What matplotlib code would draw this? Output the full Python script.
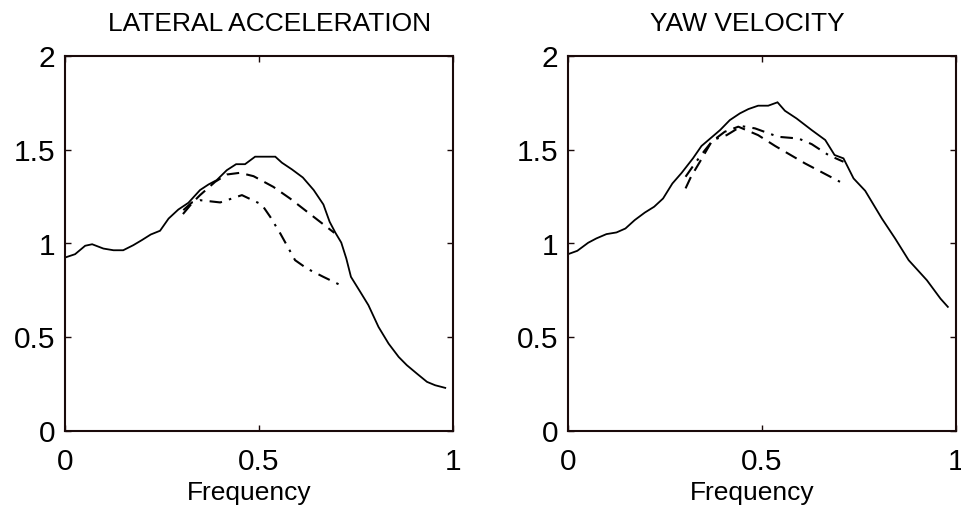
import matplotlib
matplotlib.use("Agg")
import matplotlib.pyplot as plt

plt.rcParams['font.family'] = ['Liberation Sans', 'DejaVu Sans']

# ---- Left panel: LATERAL ACCELERATION ----
la_solid_x = [0.000, 0.026, 0.052, 0.070, 0.099, 0.125, 0.150, 0.176, 0.198, 0.221,
              0.245, 0.267, 0.292, 0.318, 0.348, 0.370, 0.391, 0.417, 0.441, 0.464,
              0.490, 0.542, 0.559, 0.585, 0.613, 0.641, 0.666, 0.682, 0.697, 0.712,
              0.725, 0.737, 0.761, 0.782, 0.808, 0.834, 0.860, 0.881, 0.907, 0.933,
              0.954, 0.980]
la_solid_y = [0.925, 0.943, 0.988, 0.996, 0.973, 0.964, 0.964, 0.991, 1.018, 1.048,
              1.068, 1.133, 1.181, 1.217, 1.285, 1.315, 1.338, 1.391, 1.423, 1.423,
              1.463, 1.463, 1.431, 1.395, 1.352, 1.285, 1.208, 1.116, 1.057, 1.005,
              0.920, 0.822, 0.742, 0.671, 0.555, 0.466, 0.395, 0.351, 0.306, 0.262,
              0.244, 0.230]
la_dash_x = [0.304, 0.327, 0.348, 0.387, 0.417, 0.451, 0.486, 0.537, 0.580, 0.641, 0.694]
la_dash_y = [1.157, 1.214, 1.258, 1.329, 1.368, 1.377, 1.359, 1.302, 1.240, 1.142, 1.057]
la_dd_x = [0.305, 0.327, 0.348, 0.400, 0.456, 0.507, 0.529, 0.555, 0.593, 0.624, 0.666, 0.705]
la_dd_y = [1.178, 1.219, 1.231, 1.219, 1.258, 1.208, 1.142, 1.053, 0.911, 0.866, 0.822, 0.783]

# ---- Right panel: YAW VELOCITY ----
yv_solid_x = [0.000, 0.024, 0.052, 0.073, 0.099, 0.125, 0.148, 0.172, 0.198, 0.222,
              0.245, 0.269, 0.293, 0.322, 0.344, 0.370, 0.392, 0.417, 0.443, 0.465,
              0.490, 0.516, 0.540, 0.559, 0.589, 0.628, 0.663, 0.687, 0.710, 0.736,
              0.766, 0.809, 0.843, 0.878, 0.925, 0.960, 0.979]
yv_solid_y = [0.943, 0.961, 1.004, 1.027, 1.050, 1.059, 1.080, 1.125, 1.165, 1.196,
              1.240, 1.320, 1.377, 1.454, 1.520, 1.566, 1.605, 1.658, 1.694, 1.717,
              1.735, 1.735, 1.753, 1.708, 1.667, 1.605, 1.552, 1.472, 1.454, 1.347,
              1.281, 1.133, 1.027, 0.911, 0.804, 0.706, 0.662]
yv_dash_x = [0.303, 0.317, 0.340, 0.370, 0.404, 0.439, 0.490, 0.534, 0.611, 0.701]
yv_dash_y = [1.294, 1.356, 1.436, 1.543, 1.596, 1.623, 1.578, 1.520, 1.427, 1.329]
yv_dd_x = [0.303, 0.327, 0.353, 0.374, 0.409, 0.447, 0.482, 0.542, 0.594, 0.628, 0.671, 0.710]
yv_dd_y = [1.356, 1.427, 1.498, 1.552, 1.578, 1.626, 1.614, 1.569, 1.560, 1.530, 1.472, 1.436]

titles = ["LATERAL ACCELERATION", "YAW VELOCITY"]
xlabel = "Frequency"
xticks = [0, 0.5, 1]
xticklabels = ["0", "0.5", "1"]
yticks = [0, 0.5, 1, 1.5, 2]
yticklabels = ["0", "0.5", "1", "1.5", "2"]

panels = [
    (la_solid_x, la_solid_y, la_dash_x, la_dash_y, la_dd_x, la_dd_y),
    (yv_solid_x, yv_solid_y, yv_dash_x, yv_dash_y, yv_dd_x, yv_dd_y),
]

fig = plt.figure(figsize=(9.61, 5.11), dpi=100)
W, H = 961, 511
axes_px = [(65, 56, 388, 375), (568, 56, 388, 375)]
title_x = [0.526, 0.463]
label_x = [0.474, 0.4755]

for (l, t, w, h), title, data, tx, lx in zip(axes_px, titles, panels, title_x, label_x):
    ax = fig.add_axes([l / W, (H - t - h) / H, w / W, h / H])
    sx, sy, dx, dy, ddx, ddy = data
    ax.plot(sx, sy, color='black', lw=1.3, solid_joinstyle='miter')
    ax.plot(dx, dy, color='black', lw=1.5, dashes=(6, 3.5))
    ax.plot(ddx, ddy, color='black', lw=1.5, dashes=(6, 3.5, 1.2, 3.5))
    ax.set_xlim(0, 1)
    ax.set_ylim(0, 2)
    ax.set_xticks(xticks)
    ax.set_xticklabels(xticklabels)
    ax.set_yticks(yticks)
    ax.set_yticklabels(yticklabels)
    ax.tick_params(direction='in', length=4, width=1, top=True, right=True,
                   labelsize=21.5, color='#1a0a0a')
    ax.tick_params(axis='x', pad=12)
    ax.tick_params(axis='y', pad=7)
    for sp in ax.spines.values():
        sp.set_linewidth(1.5)
        sp.set_color('#1a0a0a')
    ax.set_title(title, fontsize=19, pad=18, x=tx)
    ax.set_xlabel(xlabel, fontsize=19, labelpad=4, x=lx)

fig.savefig("out.png", dpi=100)
